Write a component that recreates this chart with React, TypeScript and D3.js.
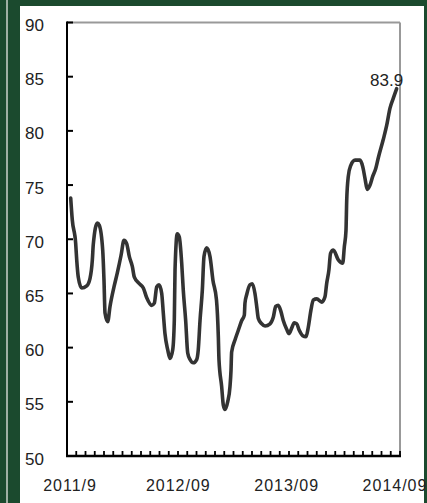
import * as d3 from 'd3';

// months counted from 2011/9
const monthOffsets = [
  0.40, 0.57, 0.94, 1.05, 1.22, 1.59, 2.13, 2.49, 2.74, 2.84, 3.28, 3.49, 3.86, 4.00, 4.11, 4.40,
  4.65, 5.08, 5.44, 5.84, 6.16, 6.45, 6.74, 7.06, 7.28, 7.82, 8.25, 8.62, 9.16, 9.44, 9.70, 9.95,
  10.24, 10.41, 10.59, 10.89, 11.14, 11.43, 11.60, 11.68, 11.92, 12.14, 12.40, 12.57, 12.83, 13.05,
  13.30, 13.65, 14.02, 14.19, 14.38, 14.63, 14.81, 15.10, 15.46, 15.78, 16.16, 16.36, 16.43, 16.72,
  16.90, 17.08, 17.37, 17.62, 17.73, 17.80, 18.16, 18.52, 18.89, 19.17, 19.24, 19.43, 19.78, 20.03,
  20.32, 20.51, 20.68, 21.05, 21.41, 21.95, 22.30, 22.56, 22.84, 23.14, 23.38, 23.75, 24.00, 24.29,
  24.57, 24.83, 25.11, 25.48, 25.84, 26.09, 26.38, 26.63, 27.00, 27.54, 27.89, 28.07, 28.32, 28.49,
  28.79, 29.33, 29.81, 29.98, 30.16, 30.24, 30.41, 30.67, 31.14, 31.68, 31.97, 32.22, 32.46, 32.76,
  33.05, 33.37, 33.65, 34.19, 34.56, 34.92, 35.27, 35.64,
];

const indexValues = [
  73.8, 71.8, 69.6, 68.1, 66.5, 65.5, 65.7, 66.4, 68.1, 69.5, 71.5, 71.3, 69.0, 66.2, 63.2, 62.4,
  63.8, 65.6, 66.9, 68.5, 69.9, 69.6, 68.4, 67.5, 66.5, 65.9, 65.5, 64.6, 63.9, 64.1, 65.6, 65.8,
  65.0, 63.2, 61.3, 59.8, 59.0, 59.8, 62.5, 67.2, 70.5, 70.2, 67.8, 65.3, 62.5, 59.5,
  58.9, 58.6, 58.9, 59.8, 62.5, 65.3, 68.4, 69.2, 68.4, 66.2, 64.4, 61.0, 58.9, 56.4,
  54.7, 54.3, 55.0, 56.4, 57.9, 59.6, 60.7, 61.6, 62.5, 63.0, 64.1, 64.9, 65.8, 65.9,
  65.0, 63.8, 62.7, 62.2, 62.0, 62.2, 62.8, 63.8, 63.9, 63.3, 62.5, 61.7, 61.3, 61.8,
  62.3, 62.2, 61.6, 61.1, 61.0, 61.9, 63.5, 64.4, 64.5, 64.2, 64.7, 65.9, 67.2, 68.7,
  69.0, 68.1, 67.8, 69.3, 70.8, 73.6, 75.8, 76.8, 77.3, 77.3, 76.7, 75.6, 74.6, 75.0,
  75.8, 76.5, 77.5, 79.2, 80.5, 82.1, 83.0, 83.9,
];

const yTicks = [50, 55, 60, 65, 70, 75, 80, 85, 90];
const xLabelMonths = [0, 12, 24, 36];
const xLabels = ['2011/9', '2012/09', '2013/09', '2014/09'];
const lastLabel = '83.9';

const W = 427;
const H = 503;
const green = '#1b4a2e';
const font = '"Liberation Sans", Arial, sans-serif';

export default function App() {
  const x = d3.scaleLinear().domain([0, 36]).range([67, 400]);
  const y = d3.scaleLinear().domain([50, 90]).range([456, 22.5]);
  // label spacing in the original is a little tighter than the tick spacing
  const xl = d3.scaleLinear().domain([0, 36]).range([70, 395]);

  const pts: [number, number][] = monthOffsets.map((m, i) => [m, indexValues[i]]);
  const line = d3
    .line<[number, number]>()
    .x(d => x(d[0]))
    .y(d => y(d[1]))
    .curve(d3.curveMonotoneX);

  const monthTicks = d3.range(1, 37);
  const last = pts[pts.length - 1];

  return (
    <div style={{ position: 'absolute', left: 0, top: 0 }}>
      <svg width={W} height={H} style={{ display: 'block' }}>
        <rect x={0} y={0} width={W} height={H} fill={green} />
        <rect x={6} y={0} width={2} height={H} fill="#9fb0a4" />
        <rect x={20} y={6} width={404} height={H - 6} fill="#fff" />

        {/* frame */}
        <line x1={x(0)} x2={x(36)} y1={y(90)} y2={y(90)} stroke="#999" strokeWidth={2} />
        <line x1={x(36)} x2={x(36)} y1={y(90)} y2={y(50)} stroke="#999" strokeWidth={2} />

        {/* y axis */}
        <line x1={x(0)} x2={x(0)} y1={y(90) - 1} y2={y(50) + 1} stroke="#000" strokeWidth={2} />
        {yTicks.map(t => (
          <g key={t}>
            <line x1={x(0)} x2={x(0) + 6} y1={y(t)} y2={y(t)} stroke="#000" strokeWidth={2} />
            <text x={25} y={y(t) + 8.5} fontFamily={font} fontSize={17} fill="#222">
              {t}
            </text>
          </g>
        ))}

        {/* x axis */}
        <line x1={x(0) - 1} x2={x(36) + 1} y1={y(50)} y2={y(50)} stroke="#000" strokeWidth={2.5} />
        {monthTicks.map(m => (
          <line key={m} x1={x(m)} x2={x(m)} y1={y(50)} y2={y(50) - 5} stroke="#000" strokeWidth={1.8} />
        ))}
        {xLabelMonths.map((m, i) => (
          <text
            key={m}
            x={xl(m)}
            y={491}
            textAnchor="middle"
            fontFamily={font}
            fontSize={16}
            letterSpacing={1}
            fill="#222"
          >
            {xLabels[i]}
          </text>
        ))}

        <path
          d={line(pts) ?? ''}
          fill="none"
          stroke="#333"
          strokeWidth={3.6}
          strokeLinejoin="round"
          strokeLinecap="round"
        />
        <text
          x={x(last[0]) - 10}
          y={y(last[1]) - 3}
          textAnchor="middle"
          fontFamily={font}
          fontSize={17}
          fill="#222"
        >
          {lastLabel}
        </text>
      </svg>
    </div>
  );
}
